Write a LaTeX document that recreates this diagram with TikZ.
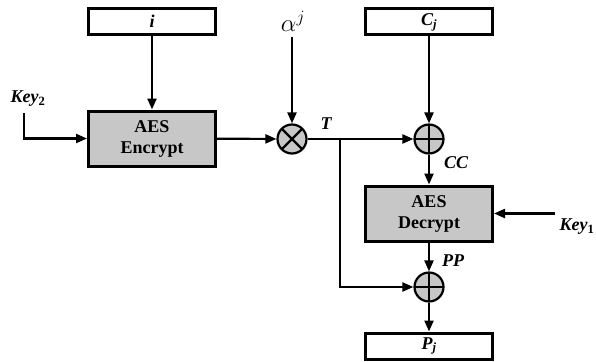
\documentclass[tikz,border=0pt]{standalone}
\usepackage{fontspec}
\setmainfont{Liberation Serif}
\usetikzlibrary{arrows.meta}
\begin{document}
\begin{tikzpicture}[x=1pt,y=-1pt,
 inbox/.style={draw, line width=3pt, fill=white, minimum width=127pt, minimum height=26pt, inner sep=0pt, font=\fontsize{18}{18}\selectfont\bfseries\itshape},
 aesbox/.style={draw, line width=3pt, fill=black!22, minimum width=127pt, minimum height=55pt, align=center, font=\fontsize{18}{21}\selectfont\bfseries},
 op/.style={circle, draw, line width=2.2pt, fill=black!22, minimum size=29pt, inner sep=0pt},
 oplus/.style={op, path picture={\draw[line width=2.2pt] (path picture bounding box.north) -- (path picture bounding box.south) (path picture bounding box.west) -- (path picture bounding box.east);}},
 otimes/.style={op, path picture={\draw[line width=2.2pt] (path picture bounding box.north west) -- (path picture bounding box.south east) (path picture bounding box.south west) -- (path picture bounding box.north east);}},
 arr/.style={line width=2.2pt, -{Triangle[length=11pt,width=9pt]}},
 lbl/.style={inner sep=0pt, font=\fontsize{18}{18}\selectfont\bfseries\itshape}]
\useasboundingbox (0,0) rectangle (596,361);
\node[inbox] (i) at (152,21.5) {i};
\node[aesbox] (enc) at (152,138.5) {AES\\Encrypt};
\node[otimes] (mul) at (292,139) {};
\node[inbox] (cj) at (429,22) {C\textsubscript{j}};
\node[oplus] (x1) at (429,139) {};
\node[aesbox] (dec) at (429,213.5) {AES\\Decrypt};
\node[oplus] (x2) at (429,287) {};
\node[inbox] (pj) at (429,346) {P\textsubscript{j}};
\node[inner sep=0pt, font=\fontsize{24}{24}\selectfont] (al) at (293,21) {$\alpha^{j}$};
\node[lbl] (k2) at (28,99) {Key\textsubscript{\upshape 2}};
\node[lbl] (k1) at (577,227) {Key\textsubscript{\upshape 1}};
\node[lbl] (t) at (326,124) {T};
\node[lbl] (cc) at (456,163) {CC};
\node[lbl] (pp) at (453,261) {PP};
\coordinate (k2s) at (24,113);
\coordinate (k1s) at (555,213.5);
\coordinate (br) at (340,139);
\coordinate (als) at (292,37);
\draw[arr] (i) -- (enc);
\draw[arr] (k2s) |- (enc.west);
\draw[arr] (enc) -- (mul);
\draw[arr] (als) -- (mul);
\draw[arr] (mul) -- (x1);
\draw[arr] (cj) -- (x1);
\draw[arr] (x1) -- (dec);
\draw[arr] (k1s) -- (dec.east);
\draw[arr] (dec) -- (x2);
\draw[arr] (br) |- (x2.west);
\draw[arr] (x2) -- (pj);
\end{tikzpicture}
\end{document}
